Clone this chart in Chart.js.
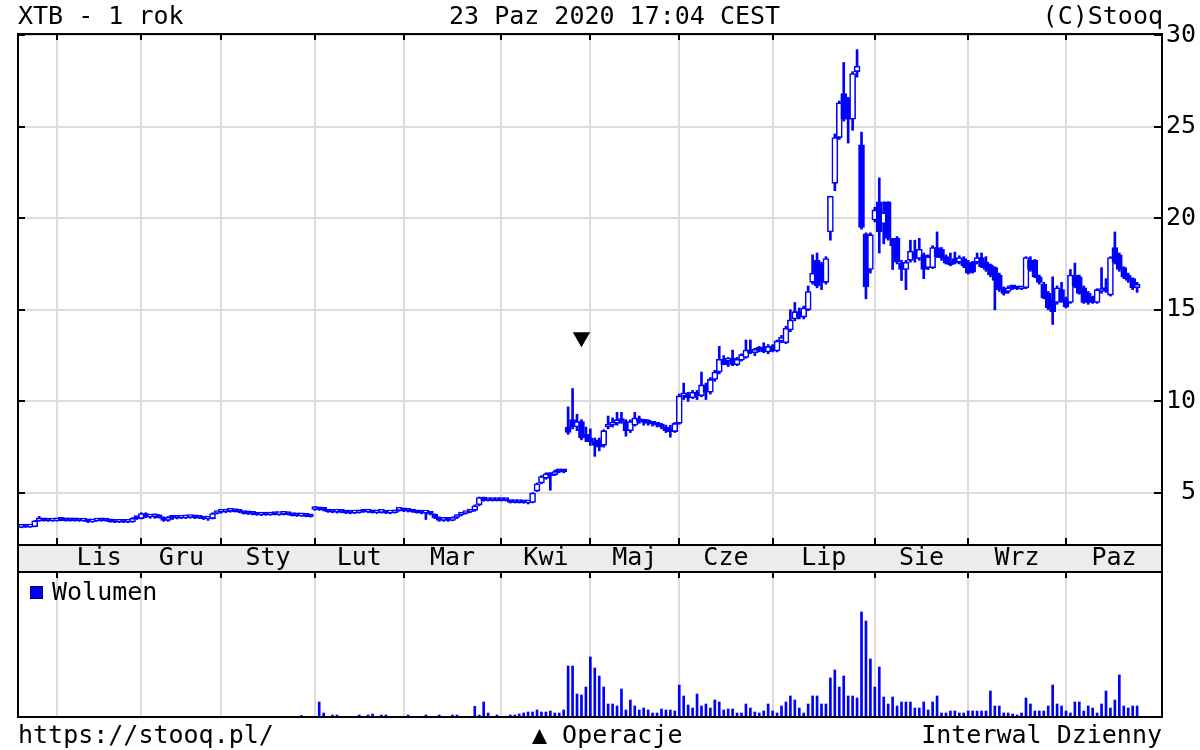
<!DOCTYPE html>
<html><head><meta charset="utf-8">
<script src="https://cdn.jsdelivr.net/npm/chart.js@4/dist/chart.umd.min.js"></script>
<style>
html,body{margin:0;padding:0;background:#fff;}
#wrap{position:relative;width:1200px;height:750px;overflow:hidden;font-family:'DejaVu Sans Mono',monospace;font-size:25px;line-height:1;color:#000;}
.t{position:absolute;white-space:pre;}
canvas{position:absolute;left:0;top:0;}
#sq{position:absolute;left:30px;top:586px;width:11px;height:11px;background:#0000ff;border:1px solid #00005a;}
</style></head><body>
<div id="wrap">
<canvas id="price" width="1200" height="750"></canvas>
<canvas id="vol" width="1200" height="750"></canvas>
<div class="t" style="left:18px;top:3px">XTB - 1 rok</div>
<div class="t" style="left:449px;top:3px">23 Paz 2020 17:04 CEST</div>
<div class="t" style="right:37px;top:3px">(C)Stooq</div>
<div id="sq"></div>
<div class="t" style="left:52px;top:579px">Wolumen</div>
<div class="t" style="left:18px;top:722px">https://stooq.pl/</div>
<div class="t" style="left:532px;top:722px">▲ Operacje</div>
<div class="t" style="right:38px;top:722px">Interwal Dzienny</div>
</div>
<script>
// ---- DATA (daily, 22 Oct 2019 .. 23 Oct 2020, trading-day index) ----
const monthLabels = ['Lis','Gru','Sty','Lut','Mar','Kwi','Maj','Cze','Lip','Sie','Wrz','Paz'];
const monthFirstIndex = [8,27,45,66,86,108,128,148,169,192,213,235];
const priceTicks = [5,10,15,20,25,30];
const eventIndex = [126];
const eventLevel = [13.5];

const open = [
3.12,3.15,3.14,3.16,3.48,3.50,3.48,3.47,
3.48,3.55,3.50,3.48,3.48,3.48,3.47,3.48,3.42,3.47,3.48,3.48,3.47,3.42,3.40,3.44,3.40,3.42,3.62,
3.60,3.88,3.68,3.70,3.80,3.65,3.50,3.68,3.62,3.62,3.64,3.66,3.68,3.64,3.62,3.58,3.60,3.88,
3.95,3.96,4.00,4.02,3.98,3.95,3.88,3.86,3.84,3.80,3.82,3.80,3.84,3.82,3.84,3.85,3.82,3.76,3.75,3.76,3.72,
4.10,4.20,4.08,4.06,3.96,3.95,3.96,3.94,3.90,3.90,3.92,4.00,3.96,3.98,3.92,3.94,3.96,3.90,3.92,4.05,
4.06,4.02,4.00,3.96,3.92,3.90,3.92,3.84,3.64,3.50,3.56,3.50,3.66,3.80,3.88,3.96,4.05,4.35,4.75,4.60,4.58,4.58,
4.58,4.58,4.58,4.48,4.48,4.47,4.46,4.48,5.10,5.55,5.80,6.05,6.00,6.15,6.15,8.60,9.00,8.60,8.90,8.20,
8.00,7.80,7.90,7.60,8.60,8.70,8.80,9.00,8.90,8.40,8.70,9.00,8.90,8.85,8.80,8.75,8.70,8.60,8.40,8.35,
8.80,10.30,10.35,10.20,10.50,10.30,10.90,10.50,11.20,11.60,12.30,12.20,12.35,12.00,12.25,12.40,12.80,12.65,12.85,12.95,12.70,
13.00,12.75,13.30,13.20,13.90,14.50,14.90,14.60,15.00,16.50,17.70,17.50,16.50,19.25,21.90,24.40,26.80,26.50,25.40,28.00,24.00,19.15,17.20,
19.90,20.90,19.70,20.90,18.90,18.90,17.55,17.20,17.70,18.10,17.80,18.00,17.30,17.30,18.40,18.30,17.90,17.60,17.80,17.60,17.80,
17.60,17.60,17.60,17.85,17.60,17.45,17.30,16.90,16.20,16.00,16.20,16.20,16.15,16.20,17.70,17.70,16.80,16.40,15.90,15.65,15.40,16.10,
15.60,15.40,16.90,16.80,16.20,15.90,15.70,15.40,16.00,16.10,15.80,18.40,18.00,17.30,16.90,16.70,16.20
];
const high = [
3.18,3.18,3.18,3.50,3.72,3.55,3.52,3.50,
3.60,3.58,3.52,3.50,3.50,3.50,3.50,3.50,3.48,3.50,3.50,3.50,3.49,3.46,3.46,3.47,3.46,3.66,3.70,
3.92,3.92,3.75,3.85,3.82,3.70,3.72,3.72,3.66,3.66,3.70,3.70,3.70,3.66,3.64,3.62,3.92,3.98,
4.00,4.05,4.05,4.05,4.02,3.98,3.92,3.90,3.88,3.85,3.86,3.86,3.88,3.86,3.88,3.88,3.86,3.80,3.80,3.78,3.76,
4.26,4.22,4.12,4.08,4.00,3.98,4.00,3.98,3.94,3.94,4.02,4.04,4.00,4.02,3.96,3.98,3.98,3.94,4.06,4.10,
4.10,4.06,4.04,4.00,3.96,3.94,3.95,3.86,3.70,3.62,3.60,3.70,3.80,3.90,3.98,4.10,4.35,4.78,4.78,4.62,4.60,4.60,
4.60,4.60,4.60,4.50,4.50,4.50,4.50,5.02,5.55,5.95,6.10,6.10,6.25,6.20,6.20,9.70,10.70,9.30,9.00,8.60,
8.50,8.00,8.00,8.45,9.20,9.10,9.40,9.40,9.00,9.00,9.40,9.20,9.00,9.00,8.90,8.85,8.80,8.70,8.70,8.85,
10.40,11.00,10.50,10.60,10.60,11.60,11.00,11.30,11.70,13.00,12.50,12.40,12.80,12.40,12.60,13.35,13.35,12.90,13.00,13.20,13.10,
13.10,13.35,13.60,14.10,15.00,15.40,15.10,15.20,16.30,18.00,18.10,17.60,17.90,21.20,24.60,26.40,28.50,26.60,28.00,29.20,24.70,19.20,19.20,
20.60,22.20,20.90,20.90,18.90,19.00,17.70,17.70,18.80,18.80,18.90,18.10,18.00,18.50,19.25,18.40,18.00,18.10,18.15,17.95,17.90,
17.70,17.65,18.10,18.10,17.90,17.50,17.35,17.00,16.25,16.30,16.30,16.25,16.25,17.90,17.90,17.75,16.90,16.50,16.00,16.80,16.30,16.50,
15.70,17.20,17.55,16.90,16.30,16.00,15.75,16.15,17.30,16.70,17.90,19.25,18.10,17.35,17.00,16.75,16.50
];
const low = [
3.10,3.12,3.12,3.15,3.45,3.46,3.45,3.45,
3.46,3.48,3.46,3.46,3.46,3.45,3.45,3.38,3.40,3.45,3.46,3.46,3.40,3.38,3.38,3.38,3.38,3.40,3.55,
3.58,3.65,3.62,3.62,3.62,3.45,3.45,3.55,3.58,3.60,3.60,3.62,3.60,3.60,3.55,3.50,3.58,3.85,
3.90,3.92,3.95,3.96,3.92,3.85,3.82,3.80,3.78,3.76,3.78,3.78,3.80,3.78,3.80,3.80,3.74,3.72,3.72,3.70,3.68,
4.05,4.05,4.02,3.94,3.92,3.90,3.92,3.88,3.86,3.88,3.90,3.94,3.92,3.90,3.88,3.90,3.88,3.86,3.90,4.00,
3.98,3.96,3.94,3.90,3.86,3.55,3.80,3.60,3.45,3.45,3.45,3.48,3.60,3.75,3.85,3.92,4.00,4.30,4.55,4.56,4.56,4.56,
4.56,4.56,4.45,4.45,4.45,4.44,4.40,4.46,5.08,5.50,5.75,5.15,5.95,6.10,6.10,8.20,8.50,8.40,7.90,7.80,
7.60,7.00,7.30,7.50,8.50,8.60,8.70,8.80,8.10,8.30,8.65,8.80,8.70,8.70,8.65,8.60,8.50,8.30,8.05,8.30,
8.75,10.10,10.00,10.15,10.10,10.25,10.10,10.40,11.10,11.50,12.00,11.90,11.95,11.95,12.20,12.35,12.60,12.50,12.70,12.65,12.60,
12.70,12.70,13.20,13.15,13.80,14.40,14.50,14.50,14.95,16.40,16.20,16.10,16.40,18.80,21.50,24.30,25.30,24.10,24.80,27.70,19.40,15.60,17.00,
19.80,18.10,18.60,18.80,17.20,17.50,16.60,16.10,17.60,17.60,17.70,16.70,17.20,17.25,17.85,17.70,17.50,17.40,17.50,17.50,17.30,
16.95,17.00,17.50,17.30,17.10,16.80,15.00,16.00,15.80,15.90,16.10,16.10,16.10,16.15,17.10,16.75,16.40,15.60,15.00,14.20,15.30,15.40,
15.10,15.35,16.20,15.85,15.35,15.30,15.35,15.35,15.90,15.95,15.75,17.50,17.10,16.70,16.50,16.10,15.95
];
const close = [
3.15,3.14,3.16,3.48,3.50,3.48,3.47,3.48,
3.55,3.50,3.48,3.48,3.48,3.47,3.48,3.42,3.47,3.48,3.48,3.47,3.42,3.40,3.44,3.40,3.42,3.62,3.60,
3.88,3.68,3.70,3.80,3.65,3.50,3.68,3.62,3.62,3.64,3.66,3.68,3.64,3.62,3.58,3.60,3.88,3.95,
3.96,4.00,4.02,3.98,3.95,3.88,3.86,3.84,3.80,3.82,3.80,3.84,3.82,3.84,3.85,3.82,3.76,3.75,3.76,3.72,3.70,
4.20,4.08,4.06,3.96,3.95,3.96,3.94,3.90,3.90,3.92,4.00,3.96,3.98,3.92,3.94,3.96,3.90,3.92,4.05,4.06,
4.02,4.00,3.96,3.92,3.90,3.92,3.84,3.64,3.50,3.56,3.50,3.66,3.76,3.88,3.96,4.05,4.30,4.75,4.60,4.58,4.58,4.58,
4.58,4.58,4.48,4.48,4.47,4.46,4.48,5.00,5.50,5.90,6.05,5.95,6.15,6.15,6.15,8.30,8.60,8.90,8.00,8.00,
7.80,7.60,7.50,8.40,8.70,8.80,9.00,8.90,8.40,8.90,9.10,8.90,8.85,8.80,8.75,8.70,8.60,8.40,8.35,8.80,
10.30,10.35,10.20,10.50,10.30,10.90,10.50,11.20,11.60,12.30,12.00,12.35,12.00,12.30,12.55,12.80,12.65,12.85,12.80,12.70,13.00,
12.75,13.30,13.50,14.00,14.45,14.90,14.60,15.10,16.00,17.00,16.30,16.50,17.80,21.20,24.40,26.30,25.40,25.40,27.90,28.30,19.50,16.25,19.10,
20.45,19.25,20.30,18.90,18.50,17.60,17.20,17.60,18.20,17.80,18.30,17.20,17.90,18.40,17.90,17.85,17.55,17.45,17.55,17.85,17.40,
17.00,17.05,17.85,17.35,17.20,16.90,16.60,16.10,15.90,16.20,16.20,16.15,16.20,17.85,17.20,16.80,16.50,15.65,15.10,14.90,16.20,15.50,
15.15,16.90,16.30,15.90,15.40,15.40,15.40,16.10,16.10,16.05,17.85,17.60,17.20,16.80,16.60,16.20,16.40
];
// volume, thousands of shares
const volume = [
2,3,2,4,2,3,2,3,
2,3,2,2,3,2,4,2,3,2,2,3,2,2,4,3,2,3,2,
3,2,4,2,3,2,2,3,2,2,3,2,2,3,2,2,4,3,
3,2,2,3,2,2,3,2,4,2,2,3,2,2,3,2,2,3,15,2,2,
3,150,40,3,20,20,2,3,2,3,20,3,20,30,3,20,20,3,2,3,
3,20,3,2,3,20,3,3,20,3,2,20,20,3,4,3,107,20,150,40,3,20,
3,3,20,20,30,40,50,50,70,50,50,60,40,40,70,510,510,230,220,300,
600,490,410,300,130,130,110,280,70,170,110,70,90,70,40,40,80,70,70,60,
320,210,120,90,230,110,130,90,170,150,70,80,80,40,40,130,90,50,40,60,130,
60,40,110,150,210,170,90,40,130,210,210,130,130,390,470,300,410,210,210,190,1050,960,580,
300,500,200,130,200,110,150,150,150,90,90,150,70,150,210,40,40,60,60,40,40,
60,60,60,60,60,260,110,110,40,40,30,20,40,190,130,60,60,60,110,320,130,110,
60,40,150,150,60,110,90,40,130,260,90,170,420,110,90,110,110
];

// ---- LAYOUT / STYLE ----
const FONT = "'DejaVu Sans Mono', monospace";
const BLUE = '#0000ff';
const GRID = '#dcdcdc';
const XMIN = -0.76, XMAX = 256.6;
const YMIN = 2.16, YMAX = 30.055;
const BAND = 27;
const labelPos = monthFirstIndex.map((v, k) => (v + (k < monthFirstIndex.length - 1 ? monthFirstIndex[k + 1] : XMAX)) / 2);
const idx = open.map((_, i) => i);

Chart.defaults.font.family = FONT;

function line(ctx, x1, y1, x2, y2) { ctx.beginPath(); ctx.moveTo(x1, y1); ctx.lineTo(x2, y2); ctx.stroke(); }

const priceFrame = {
  id: 'priceFrame',
  beforeDraw(chart) {
    const { ctx, chartArea: a } = chart;
    ctx.save();
    ctx.fillStyle = '#ececec';
    ctx.fillRect(a.left, a.bottom, a.right - a.left, BAND);
    ctx.restore();
  },
  afterDraw(chart) {
    const { ctx, chartArea: a } = chart;
    const xs = chart.scales.x, ys = chart.scales.y;
    ctx.save();
    ctx.strokeStyle = '#000';
    ctx.lineWidth = 2;
    line(ctx, a.left, a.top, a.right, a.top);
    line(ctx, a.left, a.bottom, a.right, a.bottom);
    line(ctx, a.left, a.bottom + BAND, a.right, a.bottom + BAND);
    line(ctx, a.left, a.top - 1, a.left, a.bottom + BAND);
    line(ctx, a.right, a.top - 1, a.right, a.bottom + BAND);
    monthFirstIndex.forEach(v => {
      const px = Math.round(xs.getPixelForValue(v));
      line(ctx, px, a.top, px, a.top + 6);
      line(ctx, px, a.bottom, px, a.bottom - 7);
    });
    priceTicks.forEach(v => {
      const py = Math.round(ys.getPixelForValue(v));
      line(ctx, a.left, py, a.left + 7, py);
      line(ctx, a.right, py, a.right - 8, py);
    });
    ctx.restore();
  }
};

const volFrame = {
  id: 'volFrame',
  afterDraw(chart) {
    const { ctx, chartArea: a } = chart;
    const xs = chart.scales.x;
    ctx.save();
    ctx.strokeStyle = '#000';
    ctx.lineWidth = 2;
    line(ctx, a.left, a.top, a.right, a.top);
    line(ctx, a.left - 1, a.bottom, a.right + 1, a.bottom);
    line(ctx, a.left, a.top, a.left, a.bottom);
    line(ctx, a.right, a.top, a.right, a.bottom);
    monthFirstIndex.forEach(v => {
      const px = Math.round(xs.getPixelForValue(v));
      line(ctx, px, a.top, px, a.top + 6);
    });
    ctx.restore();
  }
};

const xGridAxis = () => ({
  type: 'linear', min: XMIN, max: XMAX, bounds: 'data', position: 'bottom', offset: false,
  grid: { color: GRID, lineWidth: 2, drawTicks: false, offset: false }, border: { display: false },
  ticks: { display: false },
  afterBuildTicks: s => { s.ticks = monthFirstIndex.map(v => ({ value: v })); },
  afterFit: s => { s.height = 0; }
});

new Chart(document.getElementById('price'), {
  type: 'bar',
  data: {
    datasets: [
      {
        type: 'scatter', label: 'Operacje', xAxisID: 'x', yAxisID: 'y',
        data: eventIndex.map((d, k) => ({ x: d, y: eventLevel[k] })),
        pointStyle: 'triangle', pointRotation: 180, pointRadius: 10,
        pointBackgroundColor: '#000', pointBorderWidth: 0, showLine: false, order: 0
      },
      {
        label: 'body', xAxisID: 'x', yAxisID: 'y',
        data: idx.map(i => ({ x: i, y: [open[i], close[i]] })),
        backgroundColor: idx.map(i => close[i] > open[i] ? '#ffffff' : BLUE),
        borderColor: BLUE, borderWidth: 1.6, borderSkipped: false,
        barThickness: 6, minBarLength: 3, grouped: false, order: 1
      },
      {
        label: 'wick', xAxisID: 'x', yAxisID: 'y',
        data: idx.map(i => ({ x: i, y: [low[i], high[i]] })),
        backgroundColor: BLUE, borderWidth: 0,
        barThickness: 2, minBarLength: 1, grouped: false, order: 2
      }
    ]
  },
  options: {
    responsive: false, animation: false, devicePixelRatio: 1,
    layout: { padding: { left: 18, top: 34, right: 4, bottom: 178 } },
    plugins: { legend: { display: false }, tooltip: { enabled: false } },
    scales: {
      x: xGridAxis(),
      xl: {
        type: 'linear', min: XMIN, max: XMAX, bounds: 'data', position: 'bottom', offset: false,
        grid: { display: false, drawTicks: false, offset: false }, border: { display: false },
        ticks: {
          autoSkip: false, maxRotation: 0, minRotation: 0, padding: 1, color: '#000',
          font: { family: FONT, size: 25, lineHeight: 1 },
          callback: (v, i) => monthLabels[i]
        },
        afterBuildTicks: s => { s.ticks = labelPos.map(v => ({ value: v })); },
        afterFit: s => { s.height = BAND; }
      },
      y: {
        type: 'linear', position: 'right', min: YMIN, max: YMAX, bounds: 'data',
        grid: { color: GRID, lineWidth: 2, drawTicks: false }, border: { display: false },
        ticks: { padding: 0, crossAlign: 'far', color: '#000', font: { family: FONT, size: 25, lineHeight: 1 } },
        afterBuildTicks: s => { s.ticks = priceTicks.map(v => ({ value: v })); },
        afterFit: s => { s.width = 34; }
      }
    }
  },
  plugins: [priceFrame]
});

new Chart(document.getElementById('vol'), {
  type: 'bar',
  data: {
    datasets: [{
      label: 'Wolumen', xAxisID: 'x', yAxisID: 'y',
      data: idx.map(i => ({ x: i, y: volume[i] })),
      backgroundColor: BLUE, borderWidth: 0, barThickness: 2, grouped: false
    }]
  },
  options: {
    responsive: false, animation: false, devicePixelRatio: 1,
    layout: { padding: { left: 18, top: 572, right: 38, bottom: 33 } },
    plugins: { legend: { display: false }, tooltip: { enabled: false } },
    scales: {
      x: xGridAxis(),
      y: { display: false, min: 0, max: 1450 }
    }
  },
  plugins: [volFrame]
});
</script>
</body></html>
